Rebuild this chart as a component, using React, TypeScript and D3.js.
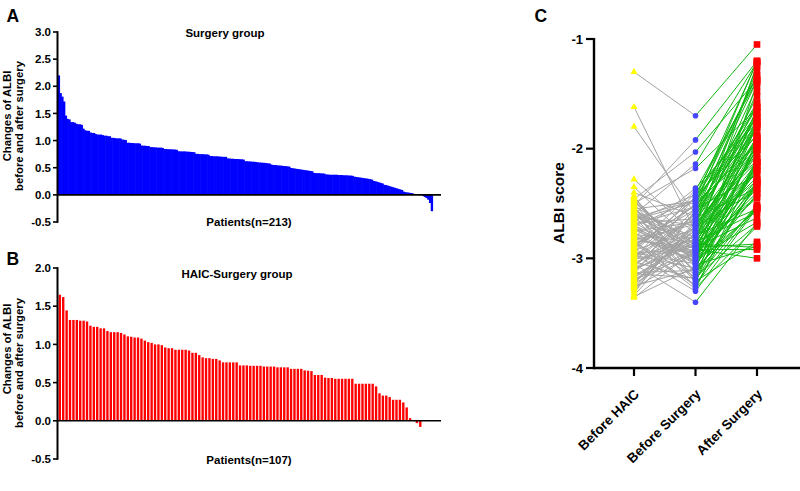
import React from 'react';
import * as d3 from 'd3';

// Panel A: Surgery group (n=213), sorted change of ALBI
const surgeryChanges = [
  2.20, 1.875, 1.81, 1.72, 1.46, 1.40, 1.39, 1.34, 1.34, 1.33,
  1.31, 1.30, 1.30, 1.29, 1.22, 1.19, 1.18, 1.18, 1.15, 1.14,
  1.14, 1.12, 1.11, 1.11, 1.11, 1.10, 1.09, 1.09, 1.08, 1.08,
  1.05, 1.05, 1.045, 1.04, 1.04, 1.04, 1.02, 1.015, 1.01, 0.96,
  0.96, 0.955, 0.955, 0.95, 0.95, 0.95, 0.945, 0.91, 0.905, 0.905,
  0.90, 0.90, 0.88, 0.88, 0.875, 0.875, 0.87, 0.87, 0.87, 0.865,
  0.845, 0.845, 0.84, 0.84, 0.84, 0.835, 0.835, 0.83, 0.805, 0.80,
  0.80, 0.80, 0.80, 0.795, 0.795, 0.79, 0.79, 0.785, 0.755, 0.755,
  0.75, 0.75, 0.75, 0.745, 0.745, 0.74, 0.715, 0.715, 0.71, 0.71,
  0.71, 0.705, 0.705, 0.70, 0.70, 0.70, 0.67, 0.67, 0.665, 0.665,
  0.66, 0.66, 0.66, 0.655, 0.655, 0.65, 0.62, 0.62, 0.615, 0.615,
  0.61, 0.61, 0.605, 0.60, 0.595, 0.595, 0.59, 0.59, 0.585, 0.58,
  0.575, 0.555, 0.55, 0.55, 0.545, 0.54, 0.54, 0.535, 0.53, 0.53,
  0.525, 0.52, 0.495, 0.49, 0.485, 0.48, 0.475, 0.47, 0.465, 0.46,
  0.455, 0.45, 0.445, 0.44, 0.435, 0.405, 0.40, 0.40, 0.40, 0.395,
  0.395, 0.39, 0.375, 0.375, 0.37, 0.37, 0.37, 0.37, 0.37, 0.365,
  0.365, 0.365, 0.36, 0.36, 0.36, 0.355, 0.355, 0.35, 0.335, 0.33,
  0.325, 0.32, 0.315, 0.31, 0.305, 0.30, 0.295, 0.29, 0.28, 0.255,
  0.25, 0.24, 0.23, 0.22, 0.21, 0.185, 0.18, 0.17, 0.16, 0.15,
  0.14, 0.13, 0.12, 0.11, 0.10, 0.09, 0.06, 0.05, 0.045, 0.04,
  0.035, 0.03, 0.015, 0.01, 0.005, 0, -0.005, -0.02, -0.04, -0.06,
  -0.09, -0.15, -0.30,
];

// Panel B: HAIC-Surgery group (n=107), sorted change of ALBI
const haicChanges = [
  1.65, 1.62, 1.445, 1.32, 1.32, 1.32, 1.31, 1.31, 1.30, 1.245,
  1.23, 1.23, 1.21, 1.21, 1.175, 1.16, 1.16, 1.16, 1.15, 1.13,
  1.105, 1.10, 1.09, 1.09, 1.075, 1.05, 1.03, 1.02, 1.00, 1.00,
  0.99, 0.96, 0.95, 0.95, 0.93, 0.93, 0.93, 0.93, 0.92, 0.89,
  0.89, 0.86, 0.83, 0.82, 0.82, 0.81, 0.81, 0.79, 0.765, 0.765,
  0.765, 0.765, 0.765, 0.725, 0.725, 0.725, 0.72, 0.72, 0.72, 0.72,
  0.71, 0.71, 0.71, 0.71, 0.70, 0.70, 0.70, 0.70, 0.68, 0.68,
  0.68, 0.68, 0.66, 0.655, 0.65, 0.60, 0.60, 0.60, 0.565, 0.56,
  0.56, 0.55, 0.55, 0.55, 0.55, 0.55, 0.55, 0.485, 0.485, 0.485,
  0.485, 0.485, 0.485, 0.45, 0.36, 0.33, 0.33, 0.31, 0.275, 0.275,
  0.275, 0.24, 0.175, 0.035, 0.0, -0.03, -0.08,
];

// Panel C: ALBI score per patient at three time points
const timePoints = ['Before HAIC', 'Before Surgery', 'After Surgery'];
const beforeHAIC = [
  -2.95, -3.10, -2.62, -2.88, -3.25, -2.70, -3.02, -2.58, -3.18, -2.92,
  -2.48, -3.30, -2.35, -2.76, -3.08, -2.64, -3.22, -2.84, -2.55, -3.35,
  -2.98, -2.40, -2.72, -3.14, -2.66, -3.04, -2.80, -3.28, -2.60, -2.90,
  -2.53, -3.12, -1.62, -2.86, -2.60, -3.20, -2.68, -2.45, -3.00, -2.78,
  -2.57, -3.32, -2.74, -3.06, -2.94, -2.50, -3.16, -1.80, -2.82, -2.96,
  -3.26, -2.63, -2.44, -2.52, -3.10, -2.87, -3.05, -2.69, -3.36, -2.28,
  -2.77, -3.00, -2.56, -2.91, -3.24, -2.47, -2.83, -3.13, -2.71, -2.59,
  -3.03, -2.93, -2.46, -2.67, -1.30, -3.19, -2.81, -2.54, -3.09, -2.89,
  -2.61, -2.50, -3.27, -2.75, -2.97, -3.15, -2.58, -2.85, -3.07, -2.49,
  -3.21, -2.79, -2.65, -3.01, -2.43, -3.34, -2.73, -2.90, -3.17, -2.61,
  -2.99, -3.11, -2.70, -2.84, -3.23, -2.52, -2.95,
];
const beforeSurgery = [
  -3.05, -2.85, -2.70, -2.52, -3.10, -2.95, -2.60, -3.22, -2.78, -2.45,
  -3.00, -2.66, -2.88, -3.15, -2.55, -2.92, -2.74, -3.28, -2.48, -3.08,
  -2.83, -2.62, -2.97, -3.18, -2.42, -2.80, -3.02, -2.68, -2.90, -2.38,
  -3.12, -2.58, -2.76, -3.25, -2.14, -2.94, -2.64, -3.05, -2.50, -2.86,
  -3.20, -2.56, -2.99, -2.72, -2.44, -3.14, -2.82, -2.60, -2.96, -3.30,
  -2.70, -2.47, -3.06, -1.92, -2.88, -2.65, -3.40, -2.53, -2.92, -2.78,
  -3.03, -2.40, -2.84, -3.24, -2.57, -2.98, -2.69, -3.11, -2.46, -2.87,
  -3.19, -2.73, -2.03, -3.01, -1.70, -2.91, -2.36, -3.13, -2.75, -2.51,
  -3.27, -2.18, -2.95, -2.67, -3.09, -2.43, -2.81, -3.17, -2.59, -2.93,
  -2.77, -3.04, -2.49, -2.89, -3.21, -2.71, -3.00, -2.55, -2.85, -2.90,
  -2.63, -2.79, -3.06, -2.90, -2.92, -2.87, -2.92,
];
const afterSurgery = [
  -1.40, -1.23, -1.25, -1.20, -1.78, -1.63, -1.29, -1.91, -1.48, -1.21,
  -1.77, -1.43, -1.67, -1.94, -1.38, -1.76, -1.58, -2.12, -1.33, -1.95,
  -1.73, -1.52, -1.88, -2.09, -1.35, -1.75, -1.99, -1.66, -1.90, -1.38,
  -2.13, -1.62, -1.81, -2.30, -1.21, -2.01, -1.71, -2.12, -1.58, -1.97,
  -2.31, -1.70, -2.16, -1.90, -1.62, -2.33, -2.01, -1.81, -2.20, -2.54,
  -1.94, -1.71, -2.30, -1.20, -2.16, -1.93, -2.68, -1.81, -2.20, -2.06,
  -2.32, -1.69, -2.13, -2.53, -1.87, -2.28, -1.99, -2.41, -1.78, -2.19,
  -2.51, -2.05, -1.37, -2.36, -1.05, -2.31, -1.76, -2.53, -2.19, -1.95,
  -2.71, -1.63, -2.40, -2.12, -2.54, -1.88, -2.26, -2.69, -2.11, -2.45,
  -2.29, -2.56, -2.01, -2.44, -2.85, -2.38, -2.67, -2.24, -2.58, -2.63,
  -2.36, -2.55, -2.89, -2.87, -2.92, -2.90, -3.00,
];

const ticksA = [-0.5, 0, 0.5, 1.0, 1.5, 2.0, 2.5, 3.0];
const ticksB = [-0.5, 0, 0.5, 1.0, 1.5, 2.0];
const ticksC = [-4, -3, -2, -1];

const FONT = '"Liberation Sans", Arial, Helvetica, sans-serif';

type BarProps = {
  data: number[];
  color: string;
  xRange: [number, number];
  padding: number;
  yDomain: [number, number];
  yRange: [number, number];
  ticks: number[];
  axisX: number;
  axisEnd: number;
  title: string;
  titleX: number;
  titleY: number;
  footer: string;
  footerX: number;
  footerY: number;
  letter: string;
  letterY: number;
  lab1Y: number;
  lab2Y: number;
};

function BarPanel(p: BarProps) {
  const x = d3.scaleBand<number>().domain(d3.range(p.data.length)).range(p.xRange).padding(p.padding);
  const y = d3.scaleLinear().domain(p.yDomain).range(p.yRange);
  const y0 = y(0);
  const extra = p.padding === 0 ? 0.6 : 0;
  return (
    <g>
      {p.data.map((v, i) => (
        <rect
          key={i}
          x={x(i)!}
          y={Math.min(y(v), y0)}
          width={x.bandwidth() + extra}
          height={Math.abs(y(v) - y0)}
          fill={p.color}
        />
      ))}
      <line x1={p.axisX} x2={p.axisEnd} y1={y0} y2={y0} stroke="#000" strokeWidth={1.6} />
      <line x1={p.axisX} x2={p.axisX} y1={y(p.yDomain[1]) - 0.8} y2={y(p.yDomain[0]) + 0.8} stroke="#000" strokeWidth={2} />
      {p.ticks.map((t) => (
        <g key={t}>
          <line x1={p.axisX - 4.5} x2={p.axisX} y1={y(t)} y2={y(t)} stroke="#000" strokeWidth={1.6} />
          <text x={p.axisX - 6.5} y={y(t)} dy="0.36em" textAnchor="end" fontSize={11.5} fontWeight="bold" fontFamily={FONT}>
            {t.toFixed(1)}
          </text>
        </g>
      ))}
      <text x={p.titleX} y={p.titleY} textAnchor="middle" fontSize={11.5} fontWeight="bold" fontFamily={FONT}>{p.title}</text>
      <text x={p.footerX} y={p.footerY} textAnchor="middle" fontSize={11.5} fontWeight="bold" fontFamily={FONT}>{p.footer}</text>
      <text x={6.5} y={p.letterY} fontSize={17.5} fontWeight="bold" fontFamily={FONT}>{p.letter}</text>
      <text transform={`translate(11,${p.lab1Y}) rotate(-90)`} textAnchor="middle" fontSize={11.3} fontWeight="bold" fontFamily={FONT}>Changes of ALBI</text>
      <text transform={`translate(23,${p.lab2Y}) rotate(-90)`} textAnchor="middle" fontSize={11.3} fontWeight="bold" fontFamily={FONT}>before and after surgery</text>
    </g>
  );
}

function ScorePanel() {
  const x = d3.scalePoint<string>().domain(timePoints).range([634, 757]);
  const y = d3.scaleLinear().domain([-4, -1]).range([368, 39]);
  const axisX = 594;
  const tri = d3.symbol().type(d3.symbolTriangle).size(22)()!;
  const sq = 6.6;
  const xs = timePoints.map((t) => x(t)!);
  return (
    <g>
      {beforeHAIC.map((v, i) => (
        <line key={'g' + i} x1={xs[0]} y1={y(v)} x2={xs[1]} y2={y(beforeSurgery[i])} stroke="#a3a3a3" strokeWidth={1} />
      ))}
      {beforeSurgery.map((v, i) => (
        <line key={'n' + i} x1={xs[1]} y1={y(v)} x2={xs[2]} y2={y(afterSurgery[i])} stroke="#12b812" strokeWidth={1} />
      ))}
      {beforeHAIC.map((v, i) => (
        <path key={'t' + i} d={tri} transform={`translate(${xs[0]},${y(v)})`} fill="#ffff00" />
      ))}
      {beforeSurgery.map((v, i) => (
        <circle key={'c' + i} cx={xs[1]} cy={y(v)} r={2.8} fill="#4646ff" />
      ))}
      {afterSurgery.map((v, i) => (
        <rect key={'s' + i} x={xs[2] - sq / 2} y={y(v) - sq / 2} width={sq} height={sq} fill="#ff0000" />
      ))}
      <line x1={axisX} x2={800} y1={y(-4)} y2={y(-4)} stroke="#000" strokeWidth={2.4} />
      <line x1={axisX} x2={axisX} y1={y(-1) - 1} y2={y(-4) + 1.2} stroke="#000" strokeWidth={2.4} />
      {ticksC.map((t) => (
        <g key={t}>
          <line x1={axisX - 8} x2={axisX} y1={y(t)} y2={y(t)} stroke="#000" strokeWidth={2.2} />
          <text x={583} y={y(t)} dy="0.36em" textAnchor="end" fontSize={13} fontWeight="bold" fontFamily={FONT}>{t}</text>
        </g>
      ))}
      {timePoints.map((t) => (
        <g key={t}>
          <line x1={x(t)!} x2={x(t)!} y1={y(-4)} y2={y(-4) + 8} stroke="#000" strokeWidth={2.2} />
          <text transform={`translate(${x(t)! + 6},${y(-4) + 27}) rotate(-45)`} textAnchor="end" fontSize={13.5} fontWeight="bold" fontFamily={FONT}>{t}</text>
        </g>
      ))}
      <text transform={`translate(563.5,203) rotate(-90)`} textAnchor="middle" fontSize={15.5} fontWeight="bold" fontFamily={FONT}>ALBI score</text>
      <text x={534.5} y={21.5} fontSize={17.5} fontWeight="bold" fontFamily={FONT}>C</text>
    </g>
  );
}

export default function App() {
  return (
    <svg width={800} height={491} style={{ position: 'absolute', left: 0, top: 0, background: '#fff' }}>
      <rect width={800} height={491} fill="#fff" />
      <BarPanel
        data={surgeryChanges}
        color="#0000ff"
        xRange={[57.7, 432.5]}
        padding={0}
        yDomain={[-0.5, 3]}
        yRange={[222, 32]}
        ticks={ticksA}
        axisX={57.5}
        axisEnd={441}
        title="Surgery group"
        titleX={225}
        titleY={36.5}
        footer="Patients(n=213)"
        footerX={249}
        footerY={225.5}
        letter="A"
        letterY={22}
        lab1Y={116}
        lab2Y={126}
      />
      <BarPanel
        data={haicChanges}
        color="#ff0000"
        xRange={[57.6, 422.5]}
        padding={0.3}
        yDomain={[-0.5, 2]}
        yRange={[459, 268]}
        ticks={ticksB}
        axisX={57.5}
        axisEnd={441}
        title="HAIC-Surgery group"
        titleX={237}
        titleY={277.5}
        footer="Patients(n=107)"
        footerX={249}
        footerY={464}
        letter="B"
        letterY={265}
        lab1Y={349}
        lab2Y={363}
      />
      <ScorePanel />
    </svg>
  );
}
